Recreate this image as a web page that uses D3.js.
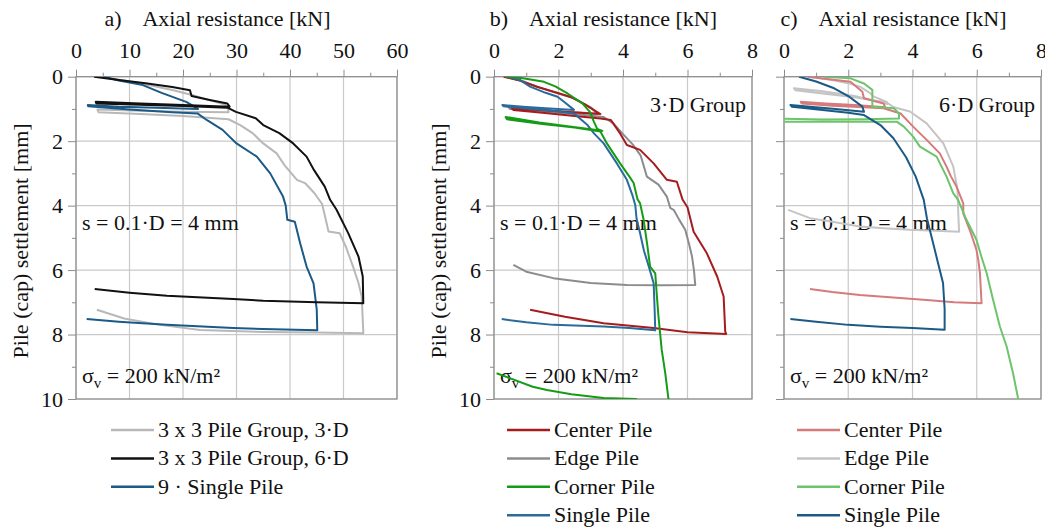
<!DOCTYPE html>
<html>
<head>
<meta charset="utf-8">
<script src="https://cdn.jsdelivr.net/npm/d3@7"></script>
<style>
body { margin: 0; background: #fff; }
svg, svg text { font-family: "Liberation Serif", "Times New Roman", "DejaVu Serif", serif; }
.axis path { display: none; }
.axis line { stroke: #8c8c8c; }
.axis text { font-size: 22px; fill: #111; }
</style>
</head>
<body>
<svg id="chart" width="1045" height="528"></svg>
<script>
var xTicksA = [0, 10, 20, 30, 40, 50, 60];
var xTicksBC = [0, 2, 4, 6, 8];
var yTicks = [0, 2, 4, 6, 8, 10];

// a) whole group vs 9 single piles  [axial resistance kN, settlement mm]
var group3D = [[4.5,0],[9,0.12],[14,0.27],[18,0.41],[21.5,0.56],[24,0.68],[27.5,0.85],[28.4,0.92],[28.5,1.1],
  [20,1.09],[12,1.06],[4,1.02],[4.2,1.1],[12,1.16],[20,1.22],[28.5,1.32],[30.7,1.5],[33,1.75],[35,2.07],
  [37.5,2.38],[39,2.75],[41.3,3.2],[42.8,3.3],[44.5,3.6],[46,3.95],[46.5,4.3],[47.2,4.8],[49.3,4.86],
  [50.5,5.3],[51.8,5.9],[52.8,6.4],[53.4,6.82],[53.7,7.9],[53.7,7.96],[45,7.94],[35,7.92],[23.2,7.86],
  [15.7,7.7],[9,7.5],[3.9,7.23]];
var group6D = [[3.4,0],[8,0.1],[13,0.2],[18,0.32],[21.3,0.42],[21.6,0.6],[25,0.72],[28.3,0.83],[28.7,0.93],
  [20,0.88],[12,0.83],[3.7,0.78],[3.8,0.83],[12,0.87],[20,0.91],[28.3,0.96],[29.9,1.09],[33.6,1.29],
  [35,1.5],[38,1.75],[40.6,2.07],[43.1,2.48],[44.5,2.9],[46.5,3.41],[47.5,3.82],[48.7,4.13],[50.9,4.86],
  [52.8,5.58],[53.6,6.2],[53.7,7.03],[45,7.0],[35,6.95],[29.4,6.9],[17,6.8],[10,6.7],[3.5,6.59]];
var nineSingle = [[5.2,0],[8,0.12],[12.5,0.26],[16,0.5],[20.6,0.78],[22.7,0.98],[22.8,1.0],[15,0.96],
  [8,0.93],[2.2,0.88],[2.3,0.92],[10,1.02],[18,1.1],[22.7,1.14],[24.5,1.35],[27.4,1.65],[30,2.07],
  [33.8,2.48],[36.3,3.0],[38.7,3.72],[39.2,4.0],[39.5,4.44],[40.9,4.5],[41.9,5.17],[43.1,5.89],
  [44.4,6.41],[45.0,7.23],[45.1,7.87],[35,7.83],[29.4,7.8],[17,7.7],[8,7.6],[2.0,7.52]];

// b) single piles within the 3·D group
var center3D = [[0.3,0],[0.8,0.12],[1.33,0.31],[1.9,0.48],[2.36,0.62],[2.8,0.85],[3.3,1.16],[2.4,1.1],
  [1.5,1.04],[0.55,0.98],[0.6,1.03],[1.5,1.12],[2.5,1.22],[3.3,1.3],[3.62,1.34],[3.91,1.76],[4.12,2.12],
  [4.53,2.27],[4.95,2.69],[5.36,3.2],[5.67,3.26],[5.85,3.82],[6.0,4.05],[6.19,4.81],[6.6,5.48],
  [6.92,6.2],[7.12,6.82],[7.17,7.91],[7.2,7.98],[6,7.93],[4.95,7.8],[3.4,7.65],[2.2,7.45],[1.12,7.23]];
var edge3D = [[0.35,0],[0.9,0.14],[1.4,0.33],[2.0,0.52],[2.5,0.68],[3.0,0.95],[3.2,1.15],[2.2,1.08],
  [1.2,1.02],[0.45,0.95],[0.5,1.0],[1.5,1.08],[2.5,1.16],[3.4,1.25],[3.7,1.45],[4.0,1.78],[4.3,2.1],
  [4.55,2.45],[4.74,3.1],[5.1,3.35],[5.36,3.72],[5.47,4.08],[5.57,4.13],[5.75,4.45],[5.93,4.75],
  [6.05,5.2],[6.14,5.58],[6.2,6.0],[6.24,6.46],[5.2,6.47],[4.12,6.46],[3.0,6.4],[1.84,6.25],[1.0,6.05],[0.6,5.84]];
var corner3D = [[0.36,0],[0.9,0.05],[1.55,0.16],[1.9,0.3],[2.28,0.52],[2.74,0.83],[2.98,1.1],[3.1,1.4],
  [3.2,1.62],[3.36,1.68],[2.4,1.55],[1.4,1.42],[0.36,1.25],[0.4,1.32],[1.5,1.47],[2.5,1.58],[3.3,1.7],
  [3.5,2.07],[3.91,2.69],[4.2,3.1],[4.33,3.3],[4.45,3.8],[4.53,3.93],[4.64,4.44],[4.75,5.2],[4.84,5.89],
  [5.0,6.1],[5.05,6.8],[5.1,7.44],[5.2,8.47],[5.31,9.2],[5.41,10.0],[5.6,10.8],[4.4,10.0],[3.4,9.97],
  [2.4,9.85],[1.64,9.72],[1.2,9.62],[0.08,9.2]];
var single3D = [[0.41,0],[0.8,0.1],[1.12,0.31],[1.6,0.5],[1.97,0.62],[2.2,0.8],[2.48,1.03],[1.6,0.98],
  [0.9,0.93],[0.26,0.88],[0.3,0.92],[1.2,1.0],[2.0,1.08],[2.48,1.14],[2.9,1.5],[3.1,1.76],[3.4,2.07],
  [3.81,2.69],[4.12,3.2],[4.3,3.7],[4.38,3.98],[4.42,4.4],[4.53,4.86],[4.65,5.4],[4.8,5.89],[4.95,6.41],
  [4.98,7.2],[5.0,7.87],[4.2,7.8],[3.4,7.75],[1.84,7.7],[1.0,7.62],[0.24,7.52]];

// c) single piles within the 6·D group
var center6D = [[0.73,0],[1.4,0.08],[2.07,0.16],[2.44,0.47],[2.49,0.67],[3.1,0.83],[3.15,0.95],[2.2,0.88],
  [1.3,0.83],[0.52,0.78],[0.55,0.83],[1.5,0.9],[2.5,0.95],[3.1,0.98],[3.63,1.14],[4.02,1.55],[4.44,1.96],
  [4.85,2.38],[5.06,2.79],[5.2,3.1],[5.37,3.41],[5.58,3.93],[5.58,4.24],[5.78,4.75],[5.99,5.37],
  [6.05,5.7],[6.1,6.1],[6.15,7.03],[5.3,7.0],[4.44,6.93],[3.4,6.85],[2.36,6.77],[1.5,6.68],[0.81,6.59]];
var edge6D = [[0.8,0],[1.5,0.1],[2.0,0.2],[2.36,0.31],[2.67,0.5],[2.8,0.62],[3.2,0.78],[3.22,0.85],
  [2.2,0.6],[1.2,0.45],[0.31,0.36],[0.35,0.42],[1.2,0.52],[2.2,0.64],[3.2,0.8],[3.42,0.95],[3.92,1.08],
  [4.44,1.45],[4.96,2.07],[5.27,2.79],[5.4,3.5],[5.42,4.13],[5.45,4.81],[4.7,4.78],[3.92,4.75],
  [3.1,4.7],[2.36,4.65],[1.5,4.5],[0.81,4.39],[0.13,4.13]];
var corner6D = [[1.24,0],[2.07,0.05],[2.49,0.21],[2.75,0.41],[2.75,0.93],[3.42,0.98],[3.58,1.14],
  [3.58,1.3],[2.5,1.32],[1.2,1.33],[-0.2,1.3],[-0.2,1.4],[1.2,1.4],[2.5,1.4],[3.52,1.4],[3.73,1.55],
  [4.02,1.86],[4.23,2.17],[4.75,2.48],[5.06,3.1],[5.27,3.62],[5.42,3.82],[5.68,4.44],[5.99,5.06],
  [6.15,5.6],[6.31,6.1],[6.51,6.93],[6.72,7.75],[6.93,8.37],[7.13,9.2],[7.29,10.0],[7.4,10.5]];
var single6D = [[0.47,0],[1.0,0.15],[1.56,0.36],[2.0,0.6],[2.44,0.93],[2.49,1.09],[1.6,1.0],[0.9,0.94],
  [0.2,0.88],[0.25,0.93],[1.2,1.03],[2.0,1.12],[2.49,1.19],[3.0,1.5],[3.4,1.9],[3.8,2.5],[4.1,3.1],
  [4.35,3.82],[4.45,4.4],[4.6,5.0],[4.8,5.8],[4.95,6.4],[5.0,7.2],[5.0,7.85],[4.0,7.8],[3.0,7.76],
  [2.0,7.7],[1.0,7.6],[0.2,7.52]];

var FONT = "'Liberation Serif', 'Times New Roman', 'DejaVu Serif', serif";
var svg = d3.select("#chart").attr("font-family", FONT);
var plotTop = 76.7, plotBottom = 399;

var panels = [
  {id: "a", left: 76, right: 397, xMax: 60, xTicks: xTicksA, yLabels: true, group: null,
    legendX: 111,
    series: [
      {name: "3 x 3 Pile Group, 3\u00b7D", data: group3D, color: "#b8b8b8"},
      {name: "3 x 3 Pile Group, 6\u00b7D", data: group6D, color: "#111111"},
      {name: "9 \u00b7 Single Pile", data: nineSingle, color: "#1b5a86"}
    ],
    drawOrder: [0, 2, 1]},
  {id: "b", left: 494, right: 752, xMax: 8, xTicks: xTicksBC, yLabels: true, group: "3\u00b7D Group",
    legendX: 507,
    series: [
      {name: "Center Pile", data: center3D, color: "#a51c1e"},
      {name: "Edge Pile", data: edge3D, color: "#8c8c8c"},
      {name: "Corner Pile", data: corner3D, color: "#169b16"},
      {name: "Single Pile", data: single3D, color: "#2a6a9c"}
    ],
    drawOrder: [1, 0, 3, 2]},
  {id: "c", left: 784, right: 1041, xMax: 8, xTicks: xTicksBC, yLabels: false, group: "6\u00b7D Group",
    legendX: 797,
    series: [
      {name: "Center Pile", data: center6D, color: "#d67a7b"},
      {name: "Edge Pile", data: edge6D, color: "#c4c4c4"},
      {name: "Corner Pile", data: corner6D, color: "#6cc46c"},
      {name: "Single Pile", data: single6D, color: "#1b5a86"}
    ],
    drawOrder: [1, 0, 2, 3]}
];

function label(sel, size) {
  return sel.attr("font-family", FONT).attr("font-size", size).attr("fill", "#111");
}

function drawPanel(p) {
  var x = d3.scaleLinear().domain([0, p.xMax]).range([p.left, p.right]);
  var y = d3.scaleLinear().domain([0, 10]).range([plotTop, plotBottom]);
  var g = svg.append("g");
  var minorX = d3.range(p.xTicks[1] / 2, p.xMax, p.xTicks[1]);
  var minorY = d3.range(1, 10, 2);

  // grid
  g.append("g").selectAll("line").data(p.xTicks).enter().append("line")
    .attr("x1", function (d) { return x(d); }).attr("x2", function (d) { return x(d); })
    .attr("y1", plotTop).attr("y2", plotBottom)
    .attr("stroke", "#c9c9c9").attr("stroke-width", 1.2);
  g.append("g").selectAll("line").data(yTicks).enter().append("line")
    .attr("x1", p.left).attr("x2", p.right)
    .attr("y1", function (d) { return y(d); }).attr("y2", function (d) { return y(d); })
    .attr("stroke", "#c9c9c9").attr("stroke-width", 1.2);

  // axes, top and left
  var ax = g.append("g").attr("class", "axis")
    .attr("transform", "translate(0," + plotTop + ")")
    .call(d3.axisTop(x).tickValues(p.xTicks).tickSize(7).tickPadding(12).tickFormat(d3.format("d")));
  g.append("g").attr("class", "axis")
    .attr("transform", "translate(0," + plotTop + ")")
    .call(d3.axisTop(x).tickValues(minorX).tickSize(4).tickFormat(""));
  var ay = g.append("g").attr("class", "axis")
    .attr("transform", "translate(" + p.left + ",0)")
    .call(d3.axisLeft(y).tickValues(yTicks).tickSize(8).tickPadding(5)
      .tickFormat(p.yLabels ? d3.format("d") : ""));
  g.append("g").attr("class", "axis")
    .attr("transform", "translate(" + p.left + ",0)")
    .call(d3.axisLeft(y).tickValues(minorY).tickSize(4).tickFormat(""));
  ax.attr("font-family", FONT).attr("font-size", 22);
  ay.attr("font-family", FONT).attr("font-size", 22);

  g.append("rect")
    .attr("x", p.left).attr("y", plotTop)
    .attr("width", p.right - p.left).attr("height", plotBottom - plotTop)
    .attr("fill", "none").attr("stroke", "#8c8c8c").attr("stroke-width", 1.2);

  // titles
  label(g.append("text"), 22).attr("x", (p.left + p.right) / 2).attr("y", 26)
    .attr("text-anchor", "middle").text("Axial resistance [kN]");
  label(g.append("text"), 22).attr("x", (p.left + p.right) / 2 - 115).attr("y", 26)
    .attr("text-anchor", "end").text(p.id + ")");
  if (p.yLabels) {
    label(g.append("text"), 22)
      .attr("transform", "translate(" + (p.left - 48) + ",241) rotate(-90)")
      .attr("text-anchor", "middle").text("Pile (cap) settlement [mm]");
  }

  // annotations
  label(g.append("text"), 22).attr("x", p.left + 6).attr("y", 230).text("s = 0.1\u00b7D = 4 mm");
  var sig = label(g.append("text"), 22).attr("x", p.left + 6).attr("y", 383);
  sig.append("tspan").text("\u03c3");
  sig.append("tspan").attr("font-size", 15).attr("dy", 5).text("v");
  sig.append("tspan").attr("dy", -5).text(" = 200 kN/m\u00b2");
  if (p.group) {
    label(g.append("text"), 22).attr("x", p.right - 6).attr("y", 112)
      .attr("text-anchor", "end").text(p.group);
  }

  // curves
  svg.append("defs").append("clipPath").attr("id", "clip-" + p.id)
    .append("rect").attr("x", p.left).attr("y", plotTop)
    .attr("width", p.right - p.left).attr("height", plotBottom - plotTop);
  var line = d3.line()
    .x(function (d) { return x(d[0]); })
    .y(function (d) { return y(d[1]); });
  var curves = g.append("g").attr("clip-path", "url(#clip-" + p.id + ")");
  p.drawOrder.forEach(function (i) {
    curves.append("path").datum(p.series[i].data)
      .attr("d", line).attr("fill", "none")
      .attr("stroke", p.series[i].color).attr("stroke-width", 2)
      .attr("stroke-linejoin", "round");
  });

  // legend
  var leg = g.append("g").selectAll("g").data(p.series).enter().append("g")
    .attr("transform", function (d, i) { return "translate(" + p.legendX + "," + (430 + i * 28.4) + ")"; });
  leg.append("line").attr("x1", 0).attr("x2", 43).attr("y1", 0).attr("y2", 0)
    .attr("stroke", function (d) { return d.color; }).attr("stroke-width", 2.5);
  label(leg.append("text"), 22).attr("x", 47).attr("y", 7)
    .text(function (d) { return d.name; });
}

panels.forEach(drawPanel);
</script>
</body>
</html>
